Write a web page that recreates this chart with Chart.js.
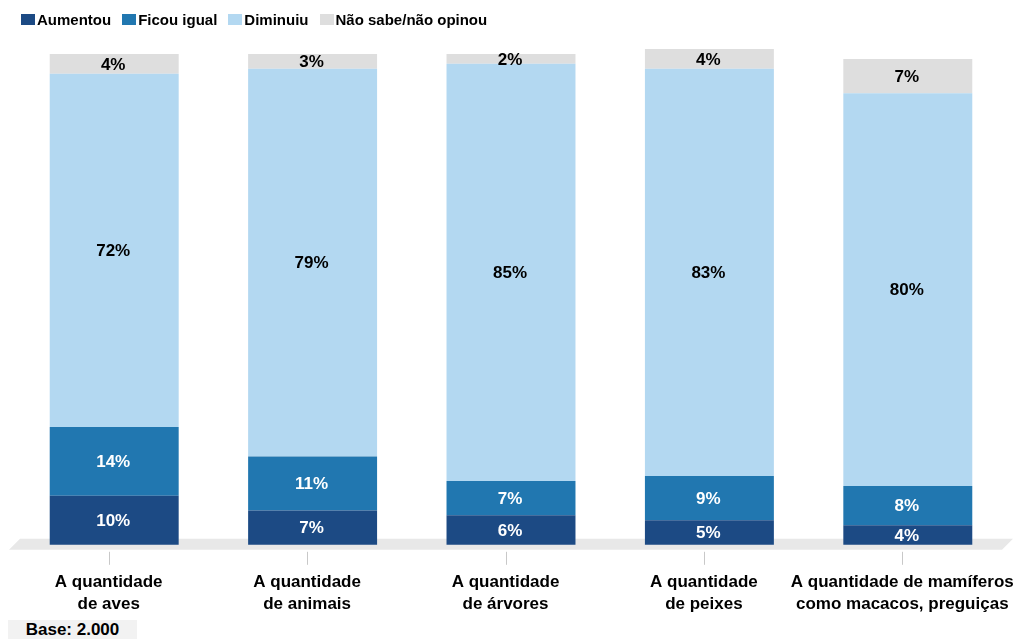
<!DOCTYPE html>
<html lang="pt-BR">
<head>
<meta charset="utf-8">
<script src="https://cdn.jsdelivr.net/npm/chart.js@4.4.1/dist/chart.umd.min.js"></script>
<style>
  html, body { margin: 0; padding: 0; background: #ffffff; }
  #wrap { position: relative; width: 1016px; height: 639px; font-family: "Liberation Sans", Arial, sans-serif; }
  #chart { position: absolute; left: 0; top: 0; }
  #legend { position: absolute; left: 21px; top: 11px; display: flex; align-items: center; font-weight: bold; font-size: 15px; color: #000; }
  #legend .item { display: flex; align-items: center; margin-right: 11px; white-space: nowrap; }
  #legend .box { width: 14px; height: 11px; margin-right: 2px; }
  #base { position: absolute; left: 8px; top: 620px; width: 129px; height: 19px; background: #f2f2f2; font-weight: bold; font-size: 17px; line-height: 20px; text-align: center; color: #000; }
</style>
</head>
<body>
<div id="wrap">
  <canvas id="chart" width="1016" height="639"></canvas>
  <div id="legend"></div>
  <div id="base">Base: 2.000</div>
</div>
<script>
// Categorias (rótulos em duas linhas)
const categories = [
  ["A quantidade", "de aves"],
  ["A quantidade", "de animais"],
  ["A quantidade", "de árvores"],
  ["A quantidade", "de peixes"],
  ["A quantidade de mamíferos", "como macacos, preguiças"]
];

// Percentuais por resposta
const aumentou   = [10, 7, 6, 5, 4];
const ficouIgual = [14, 11, 7, 9, 8];
const diminuiu   = [72, 79, 85, 83, 80];
const naoSabe    = [4, 3, 2, 4, 7];

const seriesNames  = ["Aumentou", "Ficou igual", "Diminuiu", "Não sabe/não opinou"];
const seriesColors = ["#1c4a84", "#2177b0", "#b3d8f1", "#dedede"];
const labelColors  = ["#ffffff", "#ffffff", "#000000", "#000000"];
const seriesValues = [aumentou, ficouIgual, diminuiu, naoSabe];

// Deslocamento da "profundidade" das barras em relação às marcas do eixo
const DEPTH_SHIFT = 5.5;

// Legenda em HTML
const legendEl = document.getElementById("legend");
seriesNames.forEach((name, i) => {
  const item = document.createElement("div");
  item.className = "item";
  const box = document.createElement("span");
  box.className = "box";
  box.style.background = seriesColors[i];
  const txt = document.createElement("span");
  txt.textContent = name;
  item.appendChild(box);
  item.appendChild(txt);
  legendEl.appendChild(item);
});

// Piso cinza sob as barras e marcas do eixo
const floorPlugin = {
  id: "floor",
  beforeDatasetsDraw(chart) {
    const { ctx, chartArea } = chart;
    const b = chartArea.bottom;
    ctx.save();
    ctx.fillStyle = "#e8e8e8";
    ctx.beginPath();
    ctx.moveTo(chartArea.left + 5, b - 6);
    ctx.lineTo(chartArea.right + 6, b - 6);
    ctx.lineTo(chartArea.right - 5, b + 5);
    ctx.lineTo(chartArea.left - 6, b + 5);
    ctx.closePath();
    ctx.fill();

    const xs = chart.scales.x;
    ctx.strokeStyle = "#c8c8c8";
    ctx.lineWidth = 1;
    xs.ticks.forEach((t, i) => {
      const px = Math.round(xs.getPixelForTick(i) - DEPTH_SHIFT) + 0.5;
      ctx.beginPath();
      ctx.moveTo(px, b + 7);
      ctx.lineTo(px, b + 20);
      ctx.stroke();
    });
    ctx.restore();
  }
};

// Valores dentro dos segmentos
const valueLabels = {
  id: "valueLabels",
  afterDatasetsDraw(chart) {
    const { ctx } = chart;
    ctx.save();
    ctx.font = "bold 17px 'Liberation Sans', Arial, sans-serif";
    ctx.textAlign = "center";
    ctx.textBaseline = "middle";
    chart.data.datasets.forEach((ds, di) => {
      const meta = chart.getDatasetMeta(di);
      meta.data.forEach((bar, i) => {
        const v = ds.data[i];
        const p = bar.getProps(["x", "y", "base"], true);
        ctx.fillStyle = labelColors[di];
        ctx.fillText(v + "%", p.x - 1, (p.y + p.base) / 2 + 1);
      });
    });
    ctx.restore();
  }
};

new Chart(document.getElementById("chart"), {
  type: "bar",
  data: {
    labels: categories,
    datasets: seriesValues.map((vals, i) => ({
      label: seriesNames[i],
      data: vals,
      backgroundColor: seriesColors[i],
      borderWidth: 0,
      categoryPercentage: 1,
      barPercentage: 0.65,
      clip: false
    }))
  },
  options: {
    responsive: false,
    animation: false,
    layout: { padding: { top: 54, left: 15, right: 9, bottom: 18 } },
    plugins: {
      legend: { display: false },
      tooltip: { enabled: false }
    },
    scales: {
      x: {
        stacked: true,
        border: { display: false },
        afterFit(scale) {
          scale.paddingLeft = 0;
          scale.paddingRight = 0;
        },
        grid: {
          offset: false,
          drawOnChartArea: false,
          drawTicks: true,
          tickLength: 20,
          color: "rgba(0,0,0,0)",
          lineWidth: 1
        },
        ticks: {
          color: "#000000",
          padding: 6,
          labelOffset: -DEPTH_SHIFT,
          maxRotation: 0,
          autoSkip: false,
          font: { family: "'Liberation Sans', Arial, sans-serif", size: 17, weight: "bold", lineHeight: 1.3 }
        }
      },
      y: {
        stacked: true,
        display: false,
        min: 0,
        max: 100
      }
    }
  },
  plugins: [floorPlugin, valueLabels]
});
</script>
</body>
</html>
